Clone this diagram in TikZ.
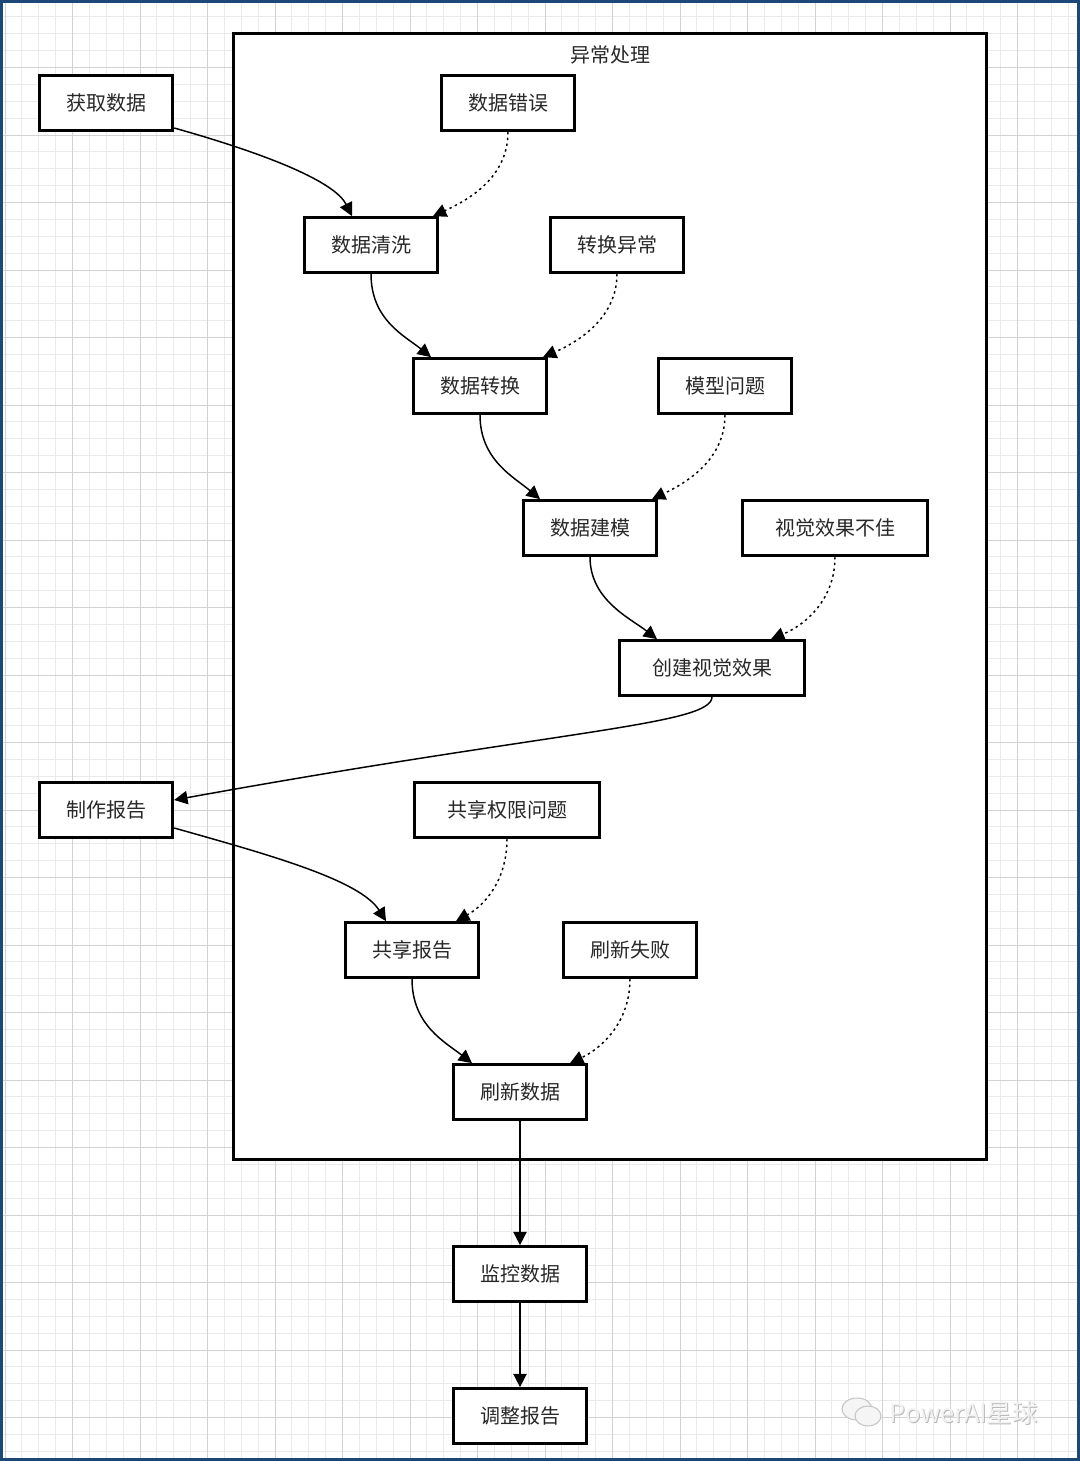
\documentclass[tikz,border=0pt]{standalone}
\usepackage{fontspec}
\setmainfont{Noto Sans CJK SC}
\usetikzlibrary{arrows.meta,calc}
\definecolor{frameblue}{RGB}{28,72,120}
\definecolor{txt}{RGB}{40,40,40}
\definecolor{gridmin}{RGB}{234,234,234}
\definecolor{gridmaj}{RGB}{210,210,210}
\tikzset{
  box/.style={draw=black, line width=2.3pt, fill=white, minimum width=100pt, minimum height=41pt,
    inner sep=0pt, font=\fontsize{15}{18}\selectfont, text=txt},
  widebox/.style={box, minimum width=139pt},
  container/.style={draw=black, line width=2.3pt, fill=white, minimum width=565pt, minimum height=845pt, inner sep=0pt},
  flow/.style={line width=1.1pt, -{Triangle[length=10pt,width=10pt]}},
  errflow/.style={flow, dash pattern=on 1.8pt off 2.6pt},
}
\begin{document}
\begin{tikzpicture}[x=0.75pt,y=-0.75pt]
\useasboundingbox (0,0) rectangle (1080,1461);
\fill[white] (0,0) rectangle (1080,1461);
% grid
\foreach \i in {0,...,64} {\draw[gridmin, line width=0.6pt] (5+\i*16.875,0) -- (5+\i*16.875,1461);}
\foreach \j in {0,...,87} {\draw[gridmin, line width=0.6pt] (0,\j*16.875) -- (1080,\j*16.875);}
\foreach \i in {0,...,16} {\draw[gridmaj, line width=0.7pt] (5+\i*67.5,0) -- (5+\i*67.5,1461);}
\foreach \j in {0,...,21} {\draw[gridmaj, line width=0.7pt] (0,\j*67.5) -- (1080,\j*67.5);}
% frame
\draw[frameblue, line width=2.2pt] (1.5,1.5) rectangle (1078.5,1459.5);

% container
\node[container] (exc) at (610,596.5) {};
\node[font=\fontsize{15}{18}\selectfont, text=txt] (exctitle) at (610,55) {异常处理};

% nodes
\node[box] (get) at (106,103) {获取数据};
\node[box] (err1) at (508,103) {数据错误};
\node[box] (clean) at (371,245) {数据清洗};
\node[box] (err2) at (617,245) {转换异常};
\node[box] (trans) at (480,386) {数据转换};
\node[box] (err3) at (725,386) {模型问题};
\node[box] (model) at (590,528) {数据建模};
\node[widebox] (err4) at (835,528) {视觉效果不佳};
\node[widebox] (vis) at (712,668) {创建视觉效果};
\node[box] (report) at (106,810) {制作报告};
\node[widebox] (err5) at (507,810) {共享权限问题};
\node[box] (share) at (412,950) {共享报告};
\node[box] (err6) at (630,950) {刷新失败};
\node[box] (refresh) at (520,1092) {刷新数据};
\node[box] (monitor) at (520,1274) {监控数据};
\node[box] (adjust) at (520,1416) {调整报告};

% connectors
\draw[flow] ($(get.east)+(0,25)$) .. controls (270,155) and (335,182) .. ($(clean.north)+(-19,0)$);
\draw[errflow] (err1.south) .. controls (508,178) and (468,200) .. ($(clean.north)+(62,0)$);
\draw[flow] (clean.south) .. controls (371,320) and (405,336) .. ($(trans.north)+(-49,0)$);
\draw[errflow] (err2.south) .. controls (617,318) and (578,342) .. ($(trans.north)+(63,0)$);
\draw[flow] (trans.south) .. controls (480,460) and (514,477) .. ($(model.north)+(-50,0)$);
\draw[errflow] (err3.south) .. controls (725,460) and (686,483) .. ($(model.north)+(62,0)$);
\draw[flow] (model.south) .. controls (590,600) and (630,618) .. ($(vis.north)+(-55,0)$);
\draw[errflow] (err4.south) .. controls (835,600) and (805,625) .. ($(vis.north)+(59,0)$);
\draw[flow] (vis.south) .. controls (712,725) and (560,730) .. ($(report.east)+(0,-10)$);
\draw[flow] ($(report.east)+(0,18)$) .. controls (270,855) and (360,880) .. ($(share.north)+(-26,0)$);
\draw[errflow] (err5.south) .. controls (507,880) and (485,905) .. ($(share.north)+(44,0)$);
\draw[flow] (share.south) .. controls (412,1025) and (445,1042) .. ($(refresh.north)+(-48,0)$);
\draw[errflow] (err6.south) .. controls (630,1022) and (602,1048) .. ($(refresh.north)+(50,0)$);
\draw[flow] (refresh.south) -- (monitor.north);
\draw[flow] (monitor.south) -- (adjust.north);

% watermark
\draw[gray!45, line width=0.8pt, fill=white!96!black] (857,1409) ellipse [x radius=15, y radius=11];
\draw[gray!45, line width=0.8pt, fill=white!96!black] (868,1416) ellipse [x radius=13, y radius=10];
\node[font=\fontsize{19}{22}\selectfont, text=gray!55, anchor=west] (wmshadow) at (886,1414) {PowerAI星球};
\node[font=\fontsize{19}{22}\selectfont, text=white!95!black, anchor=west] (wm) at (885,1413) {PowerAI星球};
\end{tikzpicture}
\end{document}
